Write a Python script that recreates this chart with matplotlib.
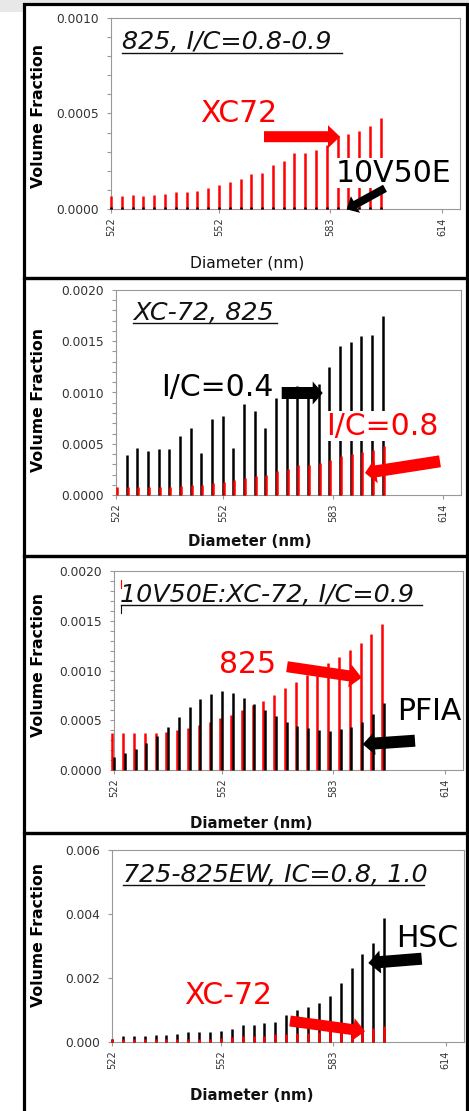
import matplotlib
matplotlib.use('Agg')
from matplotlib import pyplot as plt
from matplotlib.patches import Rectangle, FancyArrowPatch
from matplotlib.lines import Line2D
from matplotlib.ticker import MultipleLocator, FormatStrFormatter

# bin diameters (nm)
diameters = [522, 525, 528, 531, 534, 537, 540, 543, 546, 549, 552, 555, 558,
             561, 564, 567, 570, 573, 576, 579, 582, 585, 588, 591, 594, 597]
x_ticks = [522, 552, 583, 614]

# panel 1: 825, I/C=0.8-0.9
p1_xc72 = [0.0000667, 0.000067, 0.000072, 0.000067, 0.000075, 0.000079, 0.000088,
           0.000089, 0.000093, 0.00011, 0.000125, 0.000142, 0.000158, 0.000184,
           0.00019, 0.00023, 0.000249, 0.000291, 0.000293, 0.000309, 0.000335,
           0.000382, 0.000393, 0.000409, 0.000433, 0.000474]
p1_10v50e = [0.000012, 0.000012, 0.000012, 0.000012, 0.000012, 0.000012, 0.000012,
             0.000012, 0.000012, 0.000012, 0.000012, 0.000012, 0.000012, 0.000012,
             0.000012, 0.000012, 0.000012, 0.000012, 0.000012, 0.000012, 0.000012,
             0.000012, 0.000012, 0.000012, 0.000012, 0.000012]

# panel 2: XC-72, 825
p2_ic04 = [0.0, 0.000394, 0.000458, 0.000432, 0.000448, 0.000452, 0.000577, 0.000652,
           0.000406, 0.000742, 0.000768, 0.000458, 0.000887, 0.000823, 0.000655,
           0.000948, 0.00105, 0.00106, 0.00105, 0.00108, 0.00125, 0.00145, 0.00149,
           0.00155, 0.00156, 0.00175]
p2_ic08 = [0.000077, 0.000077, 0.00008, 0.000077, 0.00008, 0.00008, 0.00009, 0.000097,
           0.000097, 0.000113, 0.000129, 0.000145, 0.000165, 0.00019, 0.000194,
           0.000232, 0.000255, 0.00029, 0.000294, 0.000313, 0.000342, 0.000384,
           0.0004, 0.000416, 0.000439, 0.00048]

# panel 3: 10V50E:XC-72, I/C=0.9
p3_825 = [0.000372, 0.000372, 0.000372, 0.000372, 0.000372, 0.000382, 0.000398,
          0.000424, 0.00045, 0.000483, 0.00052, 0.000557, 0.0006, 0.00065, 0.000697,
          0.000757, 0.000821, 0.000888, 0.00095, 0.00101, 0.00108, 0.00114, 0.00121,
          0.00128, 0.00137, 0.00147]
p3_pfia = [0.000128, 0.000168, 0.000208, 0.000268, 0.000342, 0.000435, 0.00053,
           0.00063, 0.00071, 0.000767, 0.00079, 0.000773, 0.000727, 0.000667, 0.0006,
           0.00054, 0.000486, 0.000446, 0.000419, 0.000402, 0.000396, 0.000409,
           0.000436, 0.000483, 0.00056, 0.00067]

# panel 4: 725-825EW, IC=0.8, 1.0
p4_hsc = [0.0001, 0.000178, 0.00019, 0.00019, 0.00021, 0.00023, 0.00026, 0.0003,
          0.0003, 0.00032, 0.00035, 0.00042, 0.00052, 0.00052, 0.00059, 0.00063,
          0.00083, 0.001, 0.0011, 0.00122, 0.00145, 0.00185, 0.00231, 0.00274,
          0.00308, 0.00387]
p4_xc72 = [0.0001, 0.00008, 0.00008, 0.00008, 0.00008, 0.00009, 0.00009, 0.0001,
           0.0001, 0.0001, 0.00014, 0.00015, 0.00018, 0.00019, 0.0002, 0.00024,
           0.00026, 0.00029, 0.00028, 0.00031, 0.00034, 0.00035, 0.00038, 0.0004,
           0.00045, 0.00049]

W, H = 469, 1111
RED = '#ff0000'
GRID = '#999999'


def fx(px):
    return px / W


def fy(py):
    return 1 - py / H


def fp(px, py):
    return (fx(px), fy(py))


fig = plt.figure(figsize=(W / 100, H / 100), dpi=100)
fig.patch.set_facecolor('white')

# grey strip at the very top, panel frames
fig.add_artist(Rectangle((0, fy(12)), 1, 12 / H, transform=fig.transFigure,
                         facecolor='#e8e8e8', edgecolor='none', zorder=-3))
fig.add_artist(Rectangle(fp(23, 1111), fx(444), 1107 / H, transform=fig.transFigure,
                         facecolor='white', edgecolor='none', zorder=-2))
for y0, y1 in [(4.5, 278.5), (278.5, 555.5), (555.5, 833), (833, 1113)]:
    fig.add_artist(Rectangle(fp(23.8, y1), fx(467 - 23.8), (y1 - y0) / H,
                             transform=fig.transFigure, facecolor='none',
                             edgecolor='black', linewidth=2.3, zorder=-1))


def panel(box, ymax, major, minor, fmt, series, xlabel_bold, ylab_y, xlab_xy, xlab_size):
    left, top, right, bottom = box
    ax = fig.add_axes([fx(left), fy(bottom), fx(right - left), (bottom - top) / H])
    for values, color, shift in series:
        ax.vlines([d + shift for d in diameters], 0, values, colors=color,
                  linewidth=1.8, zorder=3, clip_on=False)
    ax.set_xlim(522, 619)
    ax.set_ylim(0, ymax)
    ax.set_xticks(x_ticks)
    ax.set_xticklabels([str(t) for t in x_ticks], rotation=90)
    ax.yaxis.set_major_locator(MultipleLocator(major))
    if minor:
        ax.yaxis.set_minor_locator(MultipleLocator(minor))
    ax.yaxis.set_major_formatter(FormatStrFormatter(fmt))
    for sp in ax.spines.values():
        sp.set_color(GRID)
        sp.set_linewidth(0.8)
    ax.tick_params(axis='y', which='both', direction='out', length=2.6, width=0.8,
                   color=GRID, labelcolor='#333333', labelsize=8.8, pad=5.9)
    ax.tick_params(axis='x', direction='out', length=2.8, width=0.8, color=GRID,
                   labelcolor='#333333', labelsize=7, pad=3.4)
    ax.set_ylabel('Volume Fraction', fontsize=11.3, fontweight='bold')
    ax.yaxis.set_label_coords(fx(46), fy(ylab_y), transform=fig.transFigure)
    ax.set_xlabel('Diameter (nm)', fontsize=xlab_size,
                  fontweight='bold' if xlabel_bold else 'normal', color='#111111')
    ax.xaxis.set_label_coords(fx(xlab_xy[0]), fy(xlab_xy[1]), transform=fig.transFigure)
    ax.xaxis.label.set_va('baseline')
    return ax


def title(text, x, y, ux0, ux1, uy):
    fig.text(fx(x), fy(y), text, fontsize=18.3, fontstyle='italic', color='#111111',
             ha='left', va='baseline', zorder=3)
    fig.add_artist(Line2D([fx(ux0), fx(ux1)], [fy(uy), fy(uy)], color='#111111',
                          linewidth=1.0, transform=fig.transFigure, zorder=3))


def label(text, x, y, color):
    fig.text(fx(x), fy(y), text, fontsize=21.5, color=color, ha='center', va='baseline',
             zorder=3, bbox=dict(facecolor='white', edgecolor='none', pad=0.5))


def arrow(tail, tip, color, shaft=10, head=23, head_len=12):
    k = 100 / 72
    style = 'simple,head_length={},head_width={},tail_width={}'.format(
        head_len / k, head / k, shaft / k)
    fig.add_artist(FancyArrowPatch(fp(*tail), fp(*tip), transform=fig.transFigure,
                                   arrowstyle=style, mutation_scale=1, color=color,
                                   linewidth=0, shrinkA=0, shrinkB=0, zorder=4))


# panel 1
panel((111, 18, 460, 209), 0.001, 0.0005, 0.0001, '%.4f',
      [(p1_xc72, RED, 0), (p1_10v50e, 'black', 0)], False, 116, (247.5, 268), 11.2)
title('825, I/C=0.8-0.9', 122.3, 49.3, 122.3, 342, 52.7)
label('XC72', 238.7, 121.7, RED)
label('10V50E', 394, 181.7, 'black')
arrow((264, 136.7), (340, 136.7), RED, 11, 23, 12)
arrow((385, 188.3), (346.7, 209.3), 'black', 8, 19, 10)

# panel 2
panel((116, 290, 461, 495), 0.002, 0.0005, 0.0001, '%.4f',
      [(p2_ic04, 'black', 0), (p2_ic08, RED, 0.3)], True, 400, (250, 546.3), 10.8)
title('XC-72, 825', 133.3, 319.7, 133.3, 277, 322.5)
label('I/C=0.4', 217.5, 396.3, 'black')
label('I/C=0.8', 382.5, 434.7, RED)
arrow((281.7, 393), (322.7, 393), 'black', 12, 23, 10)
arrow((440, 461.3), (365, 473), RED, 12, 24, 11)

# panel 3
panel((114, 571, 463, 770), 0.002, 0.0005, 0.0001, '%.4f',
      [(p3_825, RED, -0.45), (p3_pfia, 'black', 0)], True, 665, (250.8, 828.3), 10.7)
title('10V50E:XC-72, I/C=0.9', 120, 601.7, 120.7, 421.7, 605)
fig.add_artist(Line2D([fx(120.7), fx(120.7)], [fy(605), fy(613)], color='#111111',
                      linewidth=0.8, transform=fig.transFigure))
fig.add_artist(Line2D([fx(120.7), fx(120.7)], [fy(580), fy(588)], color=RED,
                      linewidth=0.8, transform=fig.transFigure))
label('825', 247.5, 673.3, RED)
label('PFIA', 429, 720, 'black')
arrow((287, 666.7), (361.7, 677.7), RED, 11, 23, 12)
arrow((415, 740.7), (362.7, 744.3), 'black', 12, 23, 12)

# panel 4
panel((112, 850, 464, 1042), 0.006, 0.002, None, '%.3f',
      [(p4_hsc, 'black', 0), (p4_xc72, RED, 0)], True, 935, (251.7, 1100.3), 10.8)
title('725-825EW, IC=0.8, 1.0', 123.3, 882, 123.3, 424, 884.7)
label('HSC', 427.5, 947, 'black')
label('XC-72', 228.3, 1003.7, RED)
arrow((421.7, 958.7), (368.3, 963), 'black', 12, 23, 12)
arrow((290, 1021), (365, 1031.3), RED, 11, 23, 12)

fig.savefig('out.png', dpi=100)
